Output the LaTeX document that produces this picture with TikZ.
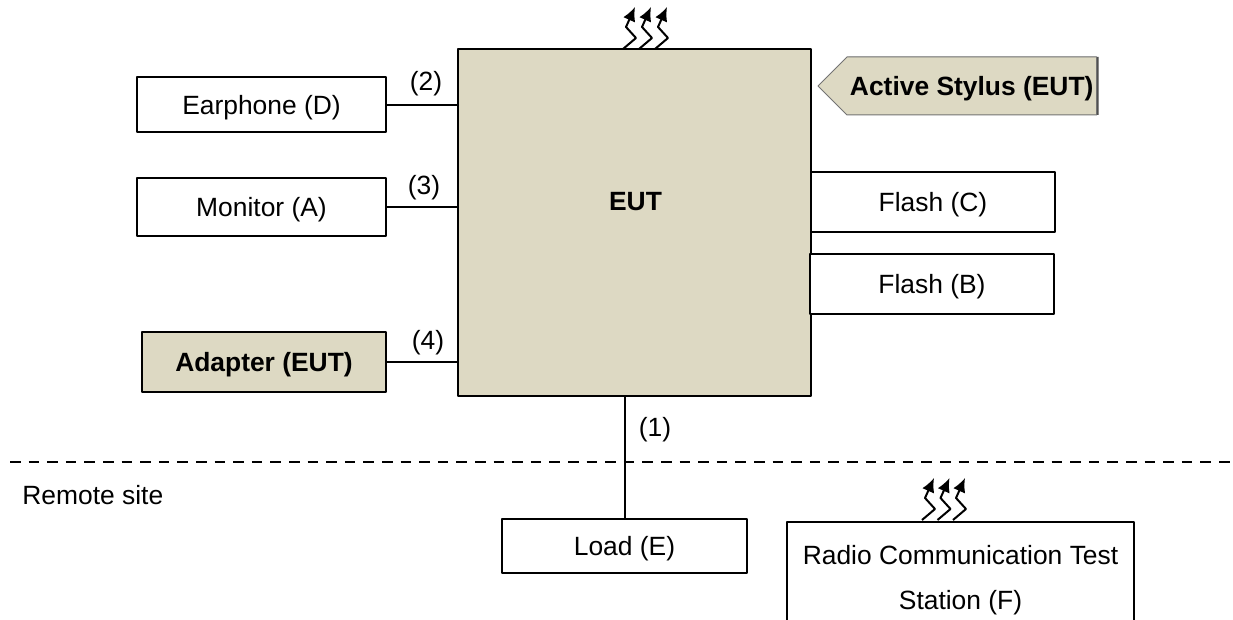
\documentclass[tikz,border=0pt]{standalone}
\usepackage{fontspec}
\setmainfont{Liberation Sans}
\usetikzlibrary{arrows.meta,shapes.symbols,shadows}
\definecolor{eutfill}{HTML}{DDD9C3}
\tikzset{
  box/.style={draw=black,line width=1bp,fill=white,inner sep=0pt,text depth=0pt},
  eutbox/.style={box,fill=eutfill},
  cable/.style={black,line width=1.3bp},
  wave/.style={black,line width=1bp,-{Latex[length=7bp,width=6.5bp]}},
}
\begin{document}
\begin{tikzpicture}[>=latex,line join=bevel,font=\fontsize{13.2bp}{15.8bp}\selectfont]
\useasboundingbox (0bp,0bp) rectangle (616.5bp,310bp);
%%
\node (node_eut) at (317.25bp,198.75bp) [eutbox,minimum width=176.5bp,minimum height=173.5bp] {};
  \node (node_euttext) at (317.75bp,209bp) {\bfseries EUT};
  \node (node_earphone) at (130.75bp,257.5bp) [box,minimum width=124.5bp,minimum height=27.5bp] {Earphone (D)};
  \node (node_monitor) at (130.75bp,206.5bp) [box,minimum width=124.5bp,minimum height=29bp] {Monitor (A)};
  \node (node_adapter) at (132bp,129bp) [eutbox,minimum width=122bp,minimum height=30bp] {\bfseries Adapter (EUT)};
  \node (node_flashc) at (466.5bp,209bp) [box,minimum width=122bp,minimum height=30bp] {Flash (C)};
  \node (node_flashb) at (466bp,168bp) [box,minimum width=122bp,minimum height=30bp] {Flash (B)};
  \node (node_stylus) at (548.5bp,267bp) [anchor=east,signal,signal to=west,signal from=nowhere,signal pointer angle=90,draw=black!55,line width=0.5bp,fill=eutfill,minimum height=29bp,inner xsep=1.5bp,text depth=0pt,drop shadow={shadow xshift=1bp,shadow yshift=0bp,fill=black!70,opacity=1}] {\bfseries Active Stylus (EUT)};
  \node (node_load) at (312.25bp,37bp) [box,minimum width=122.5bp,minimum height=27bp] {Load (E)};
  \node (node_radio) at (480.25bp,21.5bp) [box,minimum width=173.5bp,minimum height=55bp,align=center] {Radio Communication Test\\[6.7bp]Station (F)};
  \node (node_remote) at (11bp,62.5bp) [anchor=west,inner sep=0pt] {Remote site};
%
  \node (node_l1) at (327.5bp,95bp) {(1)};
  \node (node_l2) at (213bp,268bp) {(2)};
  \node (node_l3) at (212bp,216bp) {(3)};
  \node (node_l4) at (214bp,138.5bp) {(4)};
  \draw [cable] (node_earphone.east) -- (node_earphone.east -| node_eut.west);
  \draw [cable] (node_monitor.east) -- (node_monitor.east -| node_eut.west);
  \draw [cable] (node_adapter.east) -- (node_adapter.east -| node_eut.west);
  \draw [cable,line width=1bp] (node_load.north) -- (node_load.north |- node_eut.south);
  \draw [black,line width=1bp,dash pattern=on 5.3bp off 4bp] (5bp,79bp) -- (616.5bp,79bp);
%
  \foreach \dx in {0,8,16}
    \draw [wave] (311.5bp+\dx bp,285.5bp) -- ++(6.5bp,5.5bp) -- ++(-5bp,5.5bp) -- ++(4.5bp,10bp);
  \foreach \dx in {0,7.75,15.5}
    \draw [wave] (461bp+\dx bp,50bp) -- ++(6.5bp,5.5bp) -- ++(-5bp,5.5bp) -- ++(4.5bp,10bp);
%
\end{tikzpicture}
\end{document}
